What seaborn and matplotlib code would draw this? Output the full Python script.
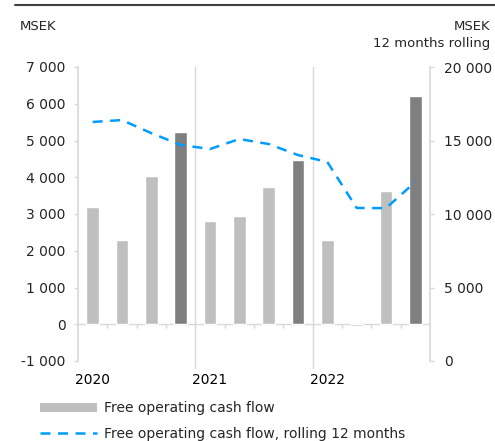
import numpy as np
import pandas as pd
import seaborn as sns
import matplotlib.pyplot as plt
from matplotlib.lines import Line2D
from matplotlib.patches import Patch

# --- data (MSEK) ---
quarters = ["Q1 2020", "Q2 2020", "Q3 2020", "Q4 2020",
            "Q1 2021", "Q2 2021", "Q3 2021", "Q4 2021",
            "Q1 2022", "Q2 2022", "Q3 2022", "Q4 2022"]
cash_flow = [3200, 2300, 4040, 5240, 2820, 2950, 3740, 4480, 2280, -50, 3630, 6220]
rolling_12m = [16260, 16390, 15500, 14700, 14420, 15100, 14760, 14010, 13540, 10410, 10400, 12180]
years = ["2020", "2021", "2022"]
left_ticks = [-1000, 0, 1000, 2000, 3000, 4000, 5000, 6000, 7000]
right_ticks = [0, 5000, 10000, 15000, 20000]

LIGHT = "#bfbfbf"
DARK = "#7f7f7f"
BLUE = "#009cff"
GRID = "#d9d9d9"


def fmt(v):
    return f"{v:,}".replace(",", " ")


sns.set_theme(style="white")
plt.rcParams["font.family"] = ["DejaVu Sans"]
plt.rcParams["font.size"] = 10

df = pd.DataFrame({
    "quarter": quarters,
    "value": cash_flow,
    "kind": ["q4" if q.startswith("Q4") else "other" for q in quarters],
})

fig = plt.figure(figsize=(4.95, 4.41), dpi=100)
ax = fig.add_axes([78 / 495, 1 - 361 / 441, 352 / 495, 294 / 441])

sns.barplot(data=df, x="quarter", y="value", hue="kind",
            palette={"other": LIGHT, "q4": DARK}, dodge=False,
            width=0.44, legend=False, ax=ax, zorder=3)

ax.set_ylim(-1000, 7000)
ax.set_xlim(-0.5, len(quarters) - 0.5)
ax.set_yticks(left_ticks)
ax.set_yticklabels([fmt(v) for v in left_ticks])
ax.set_xticks([0, 4, 8])
ax.set_xticklabels(years)
ax.set_xlabel("")
ax.set_ylabel("")
ax.tick_params(axis="x", length=0, pad=9, labelsize=10, colors="black")
ax.tick_params(axis="y", length=3, width=1, color=GRID, pad=6, labelsize=10)

for side in ["top", "bottom", "right"]:
    ax.spines[side].set_visible(False)
ax.spines["left"].set_color(GRID)

# zero line and small quarter ticks
ax.axhline(0, color=GRID, lw=1, zorder=2)
ax.vlines([i + 0.5 for i in range(len(quarters) - 1)], -110, 0, color=GRID, lw=1, zorder=2)

# year separators
for xb in [3.5, 7.5]:
    ax.plot([xb, xb], [1, -0.025], color=GRID, lw=1,
            transform=ax.get_xaxis_transform(), clip_on=False, zorder=1)

ax2 = ax.twinx()
sns.lineplot(x=np.arange(len(quarters)), y=rolling_12m, ax=ax2,
             color=BLUE, lw=1.8, linestyle=(0, (4, 3)), zorder=4)
ax2.set_ylim(0, 20000)
ax2.set_yticks(right_ticks)
ax2.set_yticklabels([fmt(v) for v in right_ticks])
ax2.tick_params(axis="y", length=3, width=1, color=GRID, pad=7, labelsize=10)
for side in ["top", "bottom", "left"]:
    ax2.spines[side].set_visible(False)
ax2.spines["right"].set_color(GRID)

# titles
fig.text(20 / 495, 1 - 27 / 441, "MSEK", ha="left", va="center", fontsize=9.5)
fig.text(490 / 495, 1 - 27 / 441, "MSEK", ha="right", va="center", fontsize=9.5)
fig.text(490 / 495, 1 - 43 / 441, "12 months rolling", ha="right", va="center", fontsize=9.5)

# top rule
fig.add_artist(Line2D([15 / 495, 1], [1 - 5 / 441, 1 - 5 / 441], color="#404040", lw=1.5))

handles = [Patch(facecolor=LIGHT, edgecolor="none"),
           Line2D([0], [0], color=BLUE, lw=1.8, linestyle=(0, (4, 3)))]
fig.legend(handles, ["Free operating cash flow", "Free operating cash flow, rolling 12 months"],
           loc="upper left", bbox_to_anchor=(32 / 495, 1 - 393 / 441), frameon=False,
           handlelength=4.1, handleheight=0.6, labelspacing=0.85, fontsize=10,
           handletextpad=0.45, borderaxespad=0.2)

fig.savefig("out.png", dpi=100)
